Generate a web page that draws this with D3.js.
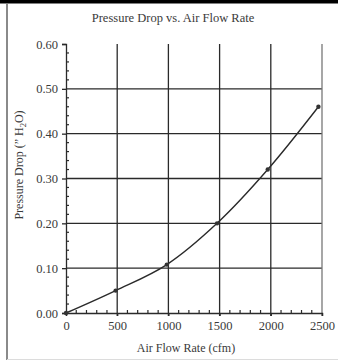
<!DOCTYPE html>
<html><head><meta charset="utf-8">
<script src="https://cdn.jsdelivr.net/npm/d3@7"></script>
<style>html,body{margin:0;padding:0;background:#fff;}svg{display:block;}</style>
</head><body>
<script>
const flowRates = [0, 485, 985, 1475, 1970, 2465];
const pressureDrops = [0, 0.05, 0.108, 0.20, 0.32, 0.46];
const xTicks = [0, 500, 1000, 1500, 2000, 2500];
const yTicks = [0, 0.1, 0.2, 0.3, 0.4, 0.5, 0.6];
const title = "Pressure Drop vs. Air Flow Rate";
const xTitle = "Air Flow Rate (cfm)";

const W = 338, H = 360;
const svg = d3.select("body").append("svg").attr("width", W).attr("height", H);
const serif = "'Liberation Serif','DejaVu Serif',serif";
const ink = "#2a2a2a";
const txt = "#3a3a3a";

// frame
svg.append("rect").attr("x", 0).attr("y", 0).attr("width", W).attr("height", 3.5).attr("fill", "#000");
svg.append("line").attr("x1", 7).attr("x2", 7).attr("y1", 4).attr("y2", H).attr("stroke", "#8a8a8a").attr("stroke-width", 2);
svg.append("line").attr("x1", 7).attr("x2", W).attr("y1", 359.5).attr("y2", 359.5).attr("stroke", "#dcdcdc").attr("stroke-width", 1);

const x = d3.scaleLinear().domain([0, 2500]).range([66, 322]);
const y = d3.scaleLinear().domain([0, 0.6]).range([313, 44]);

// gridlines
svg.append("g").selectAll("line").data(yTicks.filter(v => v > 0 && v < 0.6)).join("line")
  .attr("x1", x(0)).attr("x2", x(2500)).attr("y1", d => y(d)).attr("y2", d => y(d))
  .attr("stroke", ink).attr("stroke-width", 1.3);
svg.append("g").selectAll("line").data(xTicks.filter(v => v > 0)).join("line")
  .attr("x1", d => x(d)).attr("x2", d => x(d)).attr("y1", y(0.6)).attr("y2", y(0) + 3)
  .attr("stroke", d => d === 2500 ? "#777" : ink).attr("stroke-width", 1.3);

// y axis
const yAxis = svg.append("g").attr("transform", `translate(${x(0)},0)`)
  .call(d3.axisLeft(y).tickValues(yTicks).tickFormat(d3.format(".2f")).tickSize(4).tickPadding(4));
yAxis.attr("font-size", null).attr("font-family", null);
yAxis.select(".domain").attr("stroke", ink).attr("stroke-width", 1.3);
yAxis.selectAll(".tick line").attr("stroke", ink).attr("stroke-width", 1.3);
yAxis.selectAll("text").style("font-family", serif).style("font-size", "12.5px").attr("fill", txt);
const yMinor = d3.range(0, 61, 2).filter(v => v % 10 !== 0).map(v => v / 100);
svg.append("g").selectAll("line").data(yMinor).join("line")
  .attr("x1", x(0)).attr("x2", x(0) + 3).attr("y1", d => y(d)).attr("y2", d => y(d))
  .attr("stroke", ink).attr("stroke-width", 1.2);

// x axis
const xAxis = svg.append("g").attr("transform", `translate(0,${y(0)})`)
  .call(d3.axisBottom(x).tickValues(xTicks).tickFormat(d3.format("d")).tickSize(3).tickPadding(5));
xAxis.attr("font-size", null).attr("font-family", null);
xAxis.select(".domain").attr("stroke", ink).attr("stroke-width", 1.3);
xAxis.selectAll(".tick line").attr("stroke", ink).attr("stroke-width", 1.3);
xAxis.selectAll("text").style("font-family", serif).style("font-size", "12.5px").attr("fill", txt);
const xMinor = d3.range(100, 2500, 100).filter(v => v % 500 !== 0);
svg.append("g").selectAll("line").data(xMinor).join("line")
  .attr("x1", d => x(d)).attr("x2", d => x(d)).attr("y1", y(0)).attr("y2", y(0) - 3)
  .attr("stroke", ink).attr("stroke-width", 1.2);

// line
const pts = flowRates.map((v, i) => [v, pressureDrops[i]]);
svg.append("path").datum(pts)
  .attr("d", d3.line().x(d => x(d[0])).y(d => y(d[1])).curve(d3.curveCatmullRom))
  .attr("fill", "none").attr("stroke", ink).attr("stroke-width", 1.4);
svg.append("g").selectAll("circle").data(pts).join("circle")
  .attr("cx", d => x(d[0])).attr("cy", d => y(d[1])).attr("r", 2.2).attr("fill", "#333");

// titles
svg.append("text").attr("x", 173).attr("y", 22).attr("text-anchor", "middle")
  .attr("font-family", serif).attr("font-size", 12.5).attr("fill", txt).text(title);
svg.append("text").attr("x", 186).attr("y", 352).attr("text-anchor", "middle")
  .attr("font-family", serif).attr("font-size", 12).attr("fill", txt).text(xTitle);
const yt = svg.append("text").attr("transform", "translate(23,165) rotate(-90)").attr("text-anchor", "middle")
  .attr("font-family", serif).attr("font-size", 12).attr("fill", txt);
yt.append("tspan").text("Pressure Drop (\u201D H");
yt.append("tspan").attr("font-size", 8.5).attr("dy", 2.5).text("2");
yt.append("tspan").attr("dy", -2.5).text("O)");
</script>
</body></html>
